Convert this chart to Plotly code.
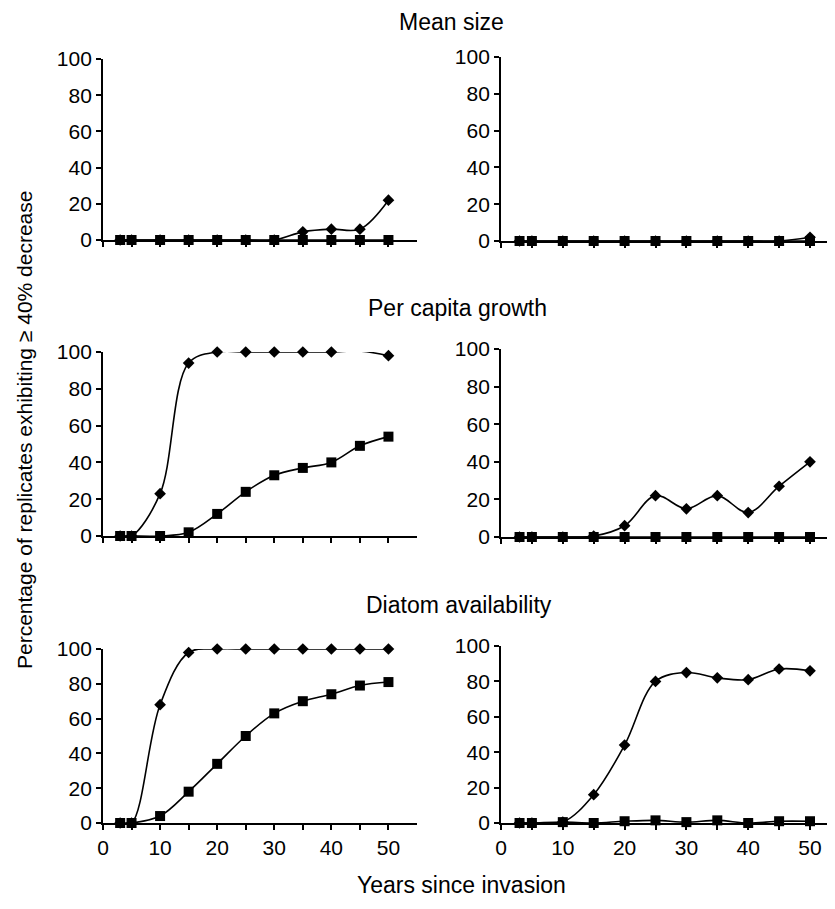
import plotly.graph_objects as go

years = [3, 5, 10, 15, 20, 25, 30, 35, 40, 45, 50]

# Mean size
mean_size_left_diamond = [0, 0, 0, 0, 0, 0, 0, 4.5, 6, 6, 22]
mean_size_left_square = [0, 0, 0, 0, 0, 0, 0, 0, 0, 0, 0]
mean_size_right_diamond = [0, 0, 0, 0, 0, 0, 0, 0, 0, 0, 2]
mean_size_right_square = [0, 0, 0, 0, 0, 0, 0, 0, 0, 0, 0]

# Per capita growth
growth_left_diamond = [0, 0, 23, 94, 100, 100, 100, 100, 100, 100.5, 98]
growth_left_square = [0, 0, 0, 2, 12, 24, 33, 37, 40, 49, 54]
growth_right_diamond = [0, 0, 0, 0.5, 6, 22, 15, 22, 13, 27, 40]
growth_right_square = [0, 0, 0, 0, 0, 0, 0, 0, 0, 0, 0]

# Diatom availability
diatom_left_diamond = [0, 0, 68, 98, 100, 100, 100, 100, 100, 100, 100]
diatom_left_square = [0, 0, 4, 18, 34, 50, 63, 70, 74, 79, 81]
diatom_right_diamond = [0, 0, 0.5, 16, 44, 80, 85, 82, 81, 87, 86]
diatom_right_square = [0, 0, 0.5, 0, 1, 1.5, 0.5, 1.5, 0, 1, 1]

panel_titles = ["Mean size", "Per capita growth", "Diatom availability"]
x_title = "Years since invasion"
y_title = "Percentage of replicates exhibiting \u2265 40% decrease"
y_ticks = [0, 20, 40, 60, 80, 100]
x_ticks = [0, 5, 10, 15, 20, 25, 30, 35, 40, 45, 50]
x_ticklabels = ["0", "", "10", "", "20", "", "30", "", "40", "", "50"]

# page body has an 8px margin; the figure is sized to fit inside the window
OFF = 8
W, H = 835 - 2 * OFF, 909 - 2 * OFF
FONT = "Liberation Sans, Arial, sans-serif"

def px_x(a, b):
    return [max(0, (a - OFF) / W), min(1, (b - OFF) / W)]

def px_y(top, bottom):
    return [1 - (bottom - OFF) / H, 1 - (top - OFF) / H]

# right column: 0 at page x 501, 50 at 810, axis runs to the window edge
r0, r50 = 501, 810
r_end = min(835 - OFF, OFF + W)
r_max = (r_end - r0) / ((r50 - r0) / 50)

panels = [
    (mean_size_left_diamond, mean_size_left_square, px_x(103, 417), px_y(59, 240), [0, 55], False),
    (mean_size_right_diamond, mean_size_right_square, px_x(r0, r_end), px_y(57, 241), [0, r_max], False),
    (growth_left_diamond, growth_left_square, px_x(103, 417), px_y(352, 536), [0, 55], False),
    (growth_right_diamond, growth_right_square, px_x(r0, r_end), px_y(349, 537), [0, r_max], False),
    (diatom_left_diamond, diatom_left_square, px_x(103, 417), px_y(649, 823), [0, 55], True),
    (diatom_right_diamond, diatom_right_square, px_x(r0, r_end), px_y(646, 823), [0, r_max], True),
]

fig = go.Figure()
layout = {}
for i, (dia, sq, xd, yd, xr, bottom) in enumerate(panels):
    n = "" if i == 0 else str(i + 1)
    xa, ya = "x" + n, "y" + n
    fig.add_trace(go.Scatter(
        x=years, y=sq, xaxis=xa, yaxis=ya, mode="lines+markers",
        line=dict(color="black", width=1.6, shape="spline", smoothing=1),
        marker=dict(symbol="square", size=10, color="black"),
        cliponaxis=False, showlegend=False))
    fig.add_trace(go.Scatter(
        x=years, y=dia, xaxis=xa, yaxis=ya, mode="lines+markers",
        line=dict(color="black", width=1.6, shape="spline", smoothing=1),
        marker=dict(symbol="diamond", size=9, color="black"),
        cliponaxis=False, showlegend=False))
    layout["xaxis" + n] = dict(
        domain=xd, range=xr, anchor=ya, showline=True, linecolor="black", linewidth=1.8,
        showgrid=False, zeroline=False, ticks="outside", ticklen=5, tickwidth=1.5,
        tickcolor="black", tickvals=x_ticks, ticktext=x_ticklabels,
        showticklabels=bottom, tickfont=dict(family=FONT, size=21, color="black"))
    layout["yaxis" + n] = dict(
        domain=yd, range=[0, 100], anchor=xa, showline=True, linecolor="black", linewidth=1.8,
        showgrid=False, zeroline=False, ticks="outside", ticklen=5, tickwidth=1.5,
        tickcolor="black", tickvals=y_ticks,
        tickfont=dict(family=FONT, size=21, color="black"))

def ann(text, x, y, size, angle=0):
    return dict(text=text, x=(x - OFF) / W, y=1 - (y - OFF) / H, xref="paper", yref="paper",
                showarrow=False, xanchor="center", yanchor="middle", textangle=angle,
                font=dict(family=FONT, size=size, color="black"))

annots = [
    ann(panel_titles[0], 452, 22, 23),
    ann(panel_titles[1], 457, 308, 23),
    ann(panel_titles[2], 459, 605, 23),
    ann(x_title, 461, 885, 23),
    ann(y_title, 24, 430, 21, -90),
]

fig.update_layout(width=W, height=H, margin=dict(l=0, r=0, t=0, b=0, autoexpand=False),
                  paper_bgcolor="white", plot_bgcolor="white",
                  annotations=annots, **layout)

fig.write_html("out.html")
